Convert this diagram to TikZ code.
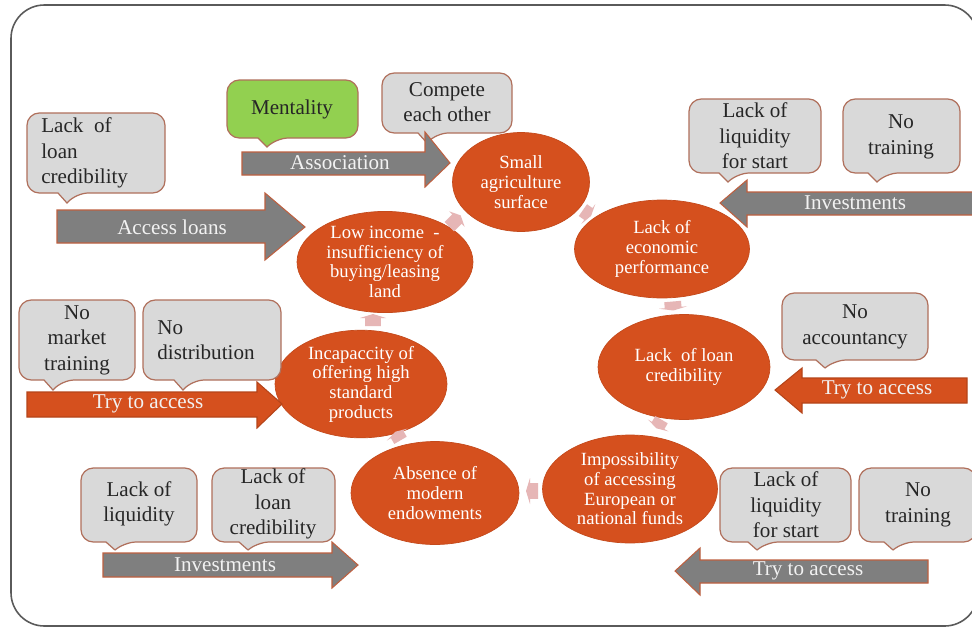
\documentclass[tikz,border=0pt]{standalone}
\usepackage{fontspec}
\setmainfont{Liberation Serif}
\usetikzlibrary{shapes.geometric}
\definecolor{cycorange}{RGB}{213,80,30}
\definecolor{boxgray}{RGB}{217,217,217}
\definecolor{boxedge}{RGB}{176,112,92}
\definecolor{arrowgray}{RGB}{127,127,127}
\definecolor{arrowedge}{RGB}{190,96,64}
\definecolor{arrowtxt}{RGB}{242,242,242}
\definecolor{mentgreen}{RGB}{146,208,80}
\definecolor{tippink}{RGB}{230,182,182}
\definecolor{framegray}{RGB}{90,90,90}

\newcommand{\cyctip}[5]{%
  \fill[tippink, shift={(#1,#2)}, rotate=#3]
    ({-#4/2},{-#5*0.3}) -- ({#4/6},{-#5*0.3}) -- ({#4/6},{-#5/2}) -- ({#4/2},0)
    -- ({#4/6},{#5/2}) -- ({#4/6},{#5*0.3}) -- ({-#4/2},{#5*0.3}) -- cycle;}

\begin{document}
\begin{tikzpicture}[x=0.02cm, y=-0.02cm,
  cyc/.style={ellipse, fill=cycorange, draw=cycorange!92!black, text=white, align=center,
    inner sep=0pt, font=\fontsize{10.6}{11.2}\selectfont},
  callout/.style={fill=boxgray, draw=boxedge, line width=0.7pt},
  boxtext/.style={align=center, text=black!85, inner sep=0pt, font=\fontsize{12}{14.5}\selectfont},
  grayarrow/.style={fill=arrowgray, draw=arrowedge, line width=0.6pt},
  orangearrow/.style={fill=cycorange, draw=cycorange!85!black, line width=0.6pt},
  arrowtext/.style={text=arrowtxt, inner sep=0pt, font=\fontsize{12}{14}\selectfont}]
  \useasboundingbox (0,0) rectangle (972,629);
  \fill[white] (0,0) rectangle (972,629);
  \draw[framegray, line width=0.9pt, rounded corners=19pt] (11,5) rectangle (978,626);

  % cycle
  \node[cyc, minimum width=2.74cm, minimum height=1.98cm] (agri) at (521,182) {Small\\agriculture\\surface};
  \node[cyc, minimum width=3.5cm, minimum height=1.96cm] (econ) at (662,249) {Lack of\\economic\\performance};
  \node[cyc, minimum width=3.44cm, minimum height=2.1cm] (loan) at (684,367) {Lack~ of loan\\credibility};
  \node[cyc, minimum width=3.5cm, minimum height=2.16cm] (funds) at (630,489) {Impossibility\\of accessing\\European or\\national funds};
  \node[cyc, minimum width=3.36cm, minimum height=2.06cm] (endow) at (435,493) {Absence of\\modern\\endowments};
  \node[cyc, minimum width=3.44cm, minimum height=1.96cm] (prod) at (361,384) {Incapaccity of\\offering high\\standard\\products};
  \node[cyc, minimum width=3.52cm, minimum height=1.98cm] (income) at (385,262) {Low income~ -\\insufficiency of\\buying/leasing\\land};

  \cyctip{455}{221}{45}{16}{22}
  \cyctip{587}{213}{-35}{10}{24}
  \cyctip{673}{306}{-85}{9}{28}
  \cyctip{659}{424}{-120}{10}{24}
  \cyctip{532}{491}{180}{12}{26}
  \cyctip{398}{436}{120}{10}{24}
  \cyctip{373}{320}{90}{12}{26}

  % callouts
  \draw[callout] (58,193) [rounded corners=7pt] -- (27,193) -- (27,113) -- (165,113) -- (165,193) -- (76,193) [sharp corners] -- (67,203) -- cycle;
  \node[boxtext, align=left, anchor=west] (c1) at (41,153) {Lack~ of\\loan\\credibility};
  \draw[callout, fill=mentgreen] (258,138) [rounded corners=7pt] -- (227,138) -- (227,80) -- (358,80) -- (358,138) -- (276,138) [sharp corners] -- (267,147) -- cycle;
  \node[boxtext] (ment) at (292,109) {Mentality};
  \draw[callout] (418,133) [rounded corners=7pt] -- (382,133) -- (382,73) -- (512,73) -- (512,133) -- (436,133) [sharp corners] -- (427,143) -- cycle;
  \node[boxtext] (compete) at (447,102) {Compete\\each other};
  \draw[callout] (719,173) [rounded corners=7pt] -- (689,173) -- (689,99) -- (821,99) -- (821,173) -- (737,173) [sharp corners] -- (728,182) -- cycle;
  \node[boxtext] (liqtop) at (755,136) {Lack of\\liquidity\\for start};
  \draw[callout] (868,173) [rounded corners=7pt] -- (843,173) -- (843,99) -- (960,99) -- (960,173) -- (886,173) [sharp corners] -- (877,182) -- cycle;
  \node[boxtext] (traintop) at (901,137) {No\\training};
  \draw[callout] (816,360) [rounded corners=7pt] -- (782,360) -- (782,293) -- (928,293) -- (928,360) -- (834,360) [sharp corners] -- (825,368) -- cycle;
  \node[boxtext] (account) at (855,327) {No\\accountancy};
  \draw[callout] (44,380) [rounded corners=7pt] -- (19,380) -- (19,300) -- (135,300) -- (135,380) -- (62,380) [sharp corners] -- (53,390) -- cycle;
  \node[boxtext] (market) at (77,340) {No\\market\\training};
  \draw[callout] (174,380) [rounded corners=7pt] -- (143,380) -- (143,300) -- (281,300) -- (281,380) -- (192,380) [sharp corners] -- (183,390) -- cycle;
  \node[boxtext, align=left, anchor=west] (distrib) at (157,340) {No\\distribution};
  \draw[callout] (106,542) [rounded corners=7pt] -- (81,542) -- (81,468) -- (197,468) -- (197,542) -- (124,542) [sharp corners] -- (115,550) -- cycle;
  \node[boxtext] (liqbot) at (139,504) {Lack of\\liquidity};
  \draw[callout] (239,542) [rounded corners=7pt] -- (212,542) -- (212,468) -- (335,468) -- (335,542) -- (257,542) [sharp corners] -- (248,550) -- cycle;
  \node[boxtext] (credbot) at (273,504) {Lack of\\loan\\credibility};
  \draw[callout] (748,542) [rounded corners=7pt] -- (720,542) -- (720,468) -- (851,468) -- (851,542) -- (766,542) [sharp corners] -- (757,550) -- cycle;
  \node[boxtext] (liqstart) at (786,505) {Lack of\\liquidity\\for start};
  \draw[callout] (884,542) [rounded corners=7pt] -- (859,542) -- (859,468) -- (976,468) -- (976,542) -- (902,542) [sharp corners] -- (893,550) -- cycle;
  \node[boxtext] (trainbot) at (918,505) {No\\training};

  % block arrows
  \draw[grayarrow] (242,152) -- (425,152) -- (425,132) -- (450,163) -- (425,187) -- (425,175) -- (242,175) -- cycle;
  \node[arrowtext] (assoc) at (340,163) {Association};
  \draw[grayarrow] (57,210) -- (265,210) -- (265,193) -- (305,227) -- (265,260) -- (265,243) -- (57,243) -- cycle;
  \node[arrowtext] (access) at (172,227) {Access loans};
  \draw[grayarrow] (985,192) -- (747,192) -- (747,180) -- (720,203) -- (747,227) -- (747,215) -- (985,215) -- cycle;
  \node[arrowtext] (invtop) at (855,203) {Investments};
  \draw[orangearrow] (27,392) -- (257,392) -- (257,382) -- (282,404) -- (257,428) -- (257,417) -- (27,417) -- cycle;
  \node[arrowtext] (tryleft) at (148,404) {Try to access};
  \draw[orangearrow] (967,378) -- (802,378) -- (802,368) -- (775,390) -- (802,413) -- (802,403) -- (967,403) -- cycle;
  \node[arrowtext] (tryright) at (877,390) {Try to access};
  \draw[grayarrow] (103,553) -- (332,553) -- (332,542) -- (358,565) -- (332,588) -- (332,577) -- (103,577) -- cycle;
  \node[arrowtext] (invbot) at (225,565) {Investments};
  \draw[grayarrow] (928,560) -- (700,560) -- (700,548) -- (675,571) -- (700,595) -- (700,583) -- (928,583) -- cycle;
  \node[arrowtext] (trybot) at (808,571) {Try to access};
\end{tikzpicture}
\end{document}
